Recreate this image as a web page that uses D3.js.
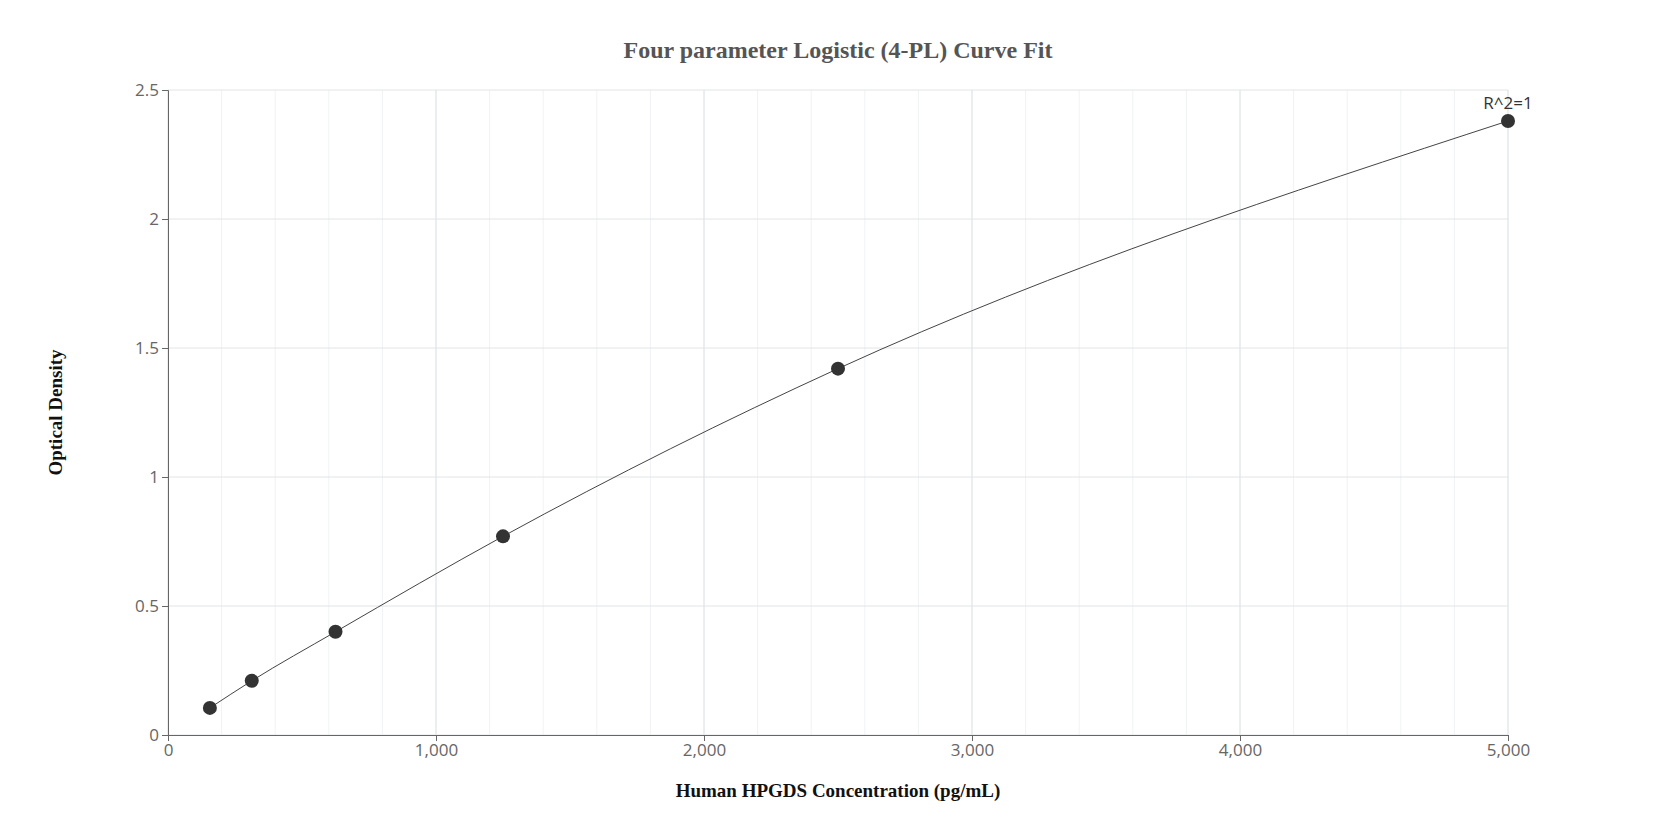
<!DOCTYPE html><html><head><meta charset="utf-8"><script src="https://d3js.org/d3.v7.min.js"></script>
<style>body{margin:0;background:#fff}</style></head><body><svg id="c" width="1675" height="840"></svg><script>
const concentrations=[156.25,312.5,625,1250,2500,5000];
const odValues=[0.105,0.21,0.40,0.77,1.42,2.38];
const xTicks=[0,1000,2000,3000,4000,5000];
const yTicks=[0,0.5,1,1.5,2,2.5];
const svg=d3.select("#c");
const L=168,R=1508,T=90,B=735;
const x=d3.scaleLinear().domain([0,5000]).range([L,R]);
const y=d3.scaleLinear().domain([0,2.5]).range([B,T]);
const minor=d3.range(0,5001,200);
svg.append("g").selectAll("line").data(minor).join("line").attr("x1",d=>x(d)).attr("x2",d=>x(d)).attr("y1",T).attr("y2",B).attr("stroke","#f0f2f5");
svg.append("g").selectAll("line").data(xTicks).join("line").attr("x1",d=>x(d)).attr("x2",d=>x(d)).attr("y1",T).attr("y2",B).attr("stroke","#e0e4e8");
svg.append("g").selectAll("line").data(yTicks).join("line").attr("x1",L).attr("x2",R).attr("y1",d=>y(d)).attr("y2",d=>y(d)).attr("stroke","#e0e4e8");
const xa=svg.append("g").attr("transform",`translate(0,${B})`).call(d3.axisBottom(x).tickValues(xTicks).tickFormat(d3.format(",")).tickSizeOuter(0).tickSize(6));
xa.select(".domain").attr("stroke","#666");xa.selectAll("line").attr("stroke","#666");
xa.selectAll("text").attr("fill","#666").attr("font-size",17).attr("font-family","Open Sans");
const ya=svg.append("g").attr("transform",`translate(${L},0)`).call(d3.axisLeft(y).tickValues(yTicks).tickFormat(d=>String(d)).tickSizeOuter(0).tickSize(6));
ya.select(".domain").attr("stroke","#666");ya.selectAll("line").attr("stroke","#666");
ya.selectAll("text").attr("fill","#666").attr("font-size",17).attr("font-family","Open Sans");
const pts=concentrations.map((c,i)=>[c,odValues[i]]);
svg.append("path").datum(pts).attr("fill","none").attr("stroke","#444").attr("stroke-width",1)
 .attr("d",d3.line().x(d=>x(d[0])).y(d=>y(d[1])).curve(d3.curveMonotoneX));
svg.append("g").selectAll("circle").data(pts).join("circle").attr("cx",d=>x(d[0])).attr("cy",d=>y(d[1])).attr("r",7).attr("fill","#333");
svg.append("text").attr("x",x(5000)).attr("y",y(2.38)-12).attr("text-anchor","middle").attr("font-family","Open Sans").attr("font-size",17).attr("fill","#333").text("R^2=1");
svg.append("text").attr("x",(L+R)/2).attr("y",58).attr("text-anchor","middle").attr("font-family","Liberation Serif").attr("font-weight","bold").attr("font-size",24).attr("fill","#555").text("Four parameter Logistic (4-PL) Curve Fit");
svg.append("text").attr("x",(L+R)/2).attr("y",797).attr("text-anchor","middle").attr("font-family","Liberation Serif").attr("font-weight","bold").attr("font-size",19).attr("fill","#111").text("Human HPGDS Concentration (pg/mL)");
svg.append("text").attr("transform",`translate(62,${(T+B)/2}) rotate(-90)`).attr("text-anchor","middle").attr("font-family","Liberation Serif").attr("font-weight","bold").attr("font-size",19).attr("fill","#111").text("Optical Density");
</script></body></html>
